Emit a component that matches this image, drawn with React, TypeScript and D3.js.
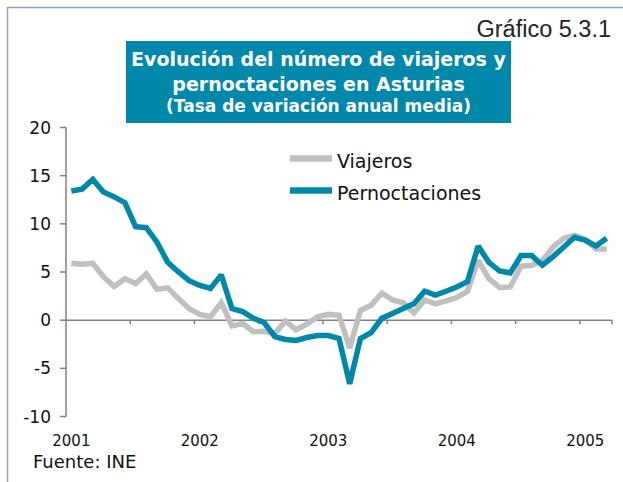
import { useEffect, useRef } from 'react';
import * as d3 from 'd3';

// meses desde enero 2001 hasta marzo 2005
const months: Date[] = d3.timeMonth.range(new Date(2001, 0, 1), new Date(2005, 3, 1));

const yearLabels = ['2001', '2002', '2003', '2004', '2005'];
const yTicks = [20, 15, 10, 5, 0, -5, -10];

const viajeros = [
  5.9, 5.8, 5.9, 4.5, 3.5, 4.3, 3.8, 4.8, 3.2, 3.35, 2.25, 1.2,
  0.6, 0.35, 1.8, -0.6, -0.35, -1.2, -1.15, -1.4, -0.1, -1.0, -0.4, 0.35,
  0.6, 0.5, -2.9, 1.0, 1.55, 2.8, 2.1, 1.8, 0.75, 2.1, 1.7, 2.0,
  2.35, 3.0, 6.2, 4.3, 3.4, 3.45, 5.6, 5.7, 6.2, 7.6, 8.5, 8.8,
  8.4, 7.4, 7.4
];

const pernoctaciones = [
  13.4, 13.6, 14.6, 13.3, 12.8, 12.2, 9.7, 9.6, 8.1, 6.0, 5.0, 4.1,
  3.6, 3.3, 4.7, 1.2, 0.9, 0.2, -0.25, -1.7, -2.0, -2.1, -1.8, -1.6,
  -1.6, -1.9, -6.6, -1.9, -1.3, 0.2, 0.7, 1.2, 1.7, 3.0, 2.6, 3.0,
  3.45, 4.0, 7.7, 6.0, 5.1, 4.9, 6.7, 6.7, 5.7, 6.6, 7.6, 8.6,
  8.3, 7.7, 8.5
];

const series = [
  { name: 'Viajeros', values: viajeros, color: '#c0c0c0' },
  { name: 'Pernoctaciones', values: pernoctaciones, color: '#0088a9' }
];

const W = 623;
const H = 482;
const TEAL = '#0088ab';

export default function App() {
  const svgRef = useRef<SVGSVGElement>(null);

  useEffect(() => {
    if (!svgRef.current) return;
    document.body.style.margin = '0';

    const svg = d3.select(svgRef.current);
    svg.selectAll('*').remove();

    const x = d3.scaleBand<number>()
      .domain(months.map((_, i) => i))
      .range([66, 612])
      .paddingInner(0)
      .paddingOuter(0);
    const y = d3.scaleLinear().domain([-10, 20]).range([416.5, 127.5]);
    const cx = (i: number) => (x(i) || 0) + x.bandwidth() / 2;

    // marco
    svg.append('path')
      .attr('d', `M7.5,${H} V7.5 H${W}`)
      .attr('fill', 'none')
      .attr('stroke', '#94a3c4')
      .attr('stroke-width', 1.5);

    // Gráfico 5.3.1
    svg.append('text')
      .attr('x', 611)
      .attr('y', 37)
      .attr('text-anchor', 'end')
      .attr('font-family', '"Liberation Sans", Arial, sans-serif')
      .attr('font-size', 23.5)
      .attr('fill', '#222')
      .text('Gráfico 5.3.1');

    // caja del titulo
    svg.append('rect')
      .attr('x', 126)
      .attr('y', 41)
      .attr('width', 385)
      .attr('height', 82)
      .attr('fill', TEAL);

    const titleLines = [
      { t: 'Evolución del número de viajeros y', y: 66, s: 19 },
      { t: 'pernoctaciones en Asturias', y: 90.5, s: 19 },
      { t: '(Tasa de variación anual media)', y: 112, s: 17 }
    ];
    svg.selectAll('text.title')
      .data(titleLines)
      .enter()
      .append('text')
      .attr('class', 'title')
      .attr('x', 318.5)
      .attr('y', d => d.y)
      .attr('text-anchor', 'middle')
      .attr('font-family', '"DejaVu Sans", Verdana, sans-serif')
      .attr('font-weight', 'bold')
      .attr('font-size', d => d.s)
      .attr('fill', '#fff')
      .text(d => d.t);

    const axisColor = '#808080';

    // eje Y
    svg.append('line')
      .attr('x1', 66).attr('x2', 66)
      .attr('y1', y(20)).attr('y2', y(-10))
      .attr('stroke', axisColor).attr('stroke-width', 1.5);

    svg.selectAll('line.ytick')
      .data(yTicks)
      .enter()
      .append('line')
      .attr('class', 'ytick')
      .attr('x1', 60).attr('x2', 66)
      .attr('y1', d => y(d)).attr('y2', d => y(d))
      .attr('stroke', axisColor).attr('stroke-width', 1.5);

    svg.selectAll('text.ylab')
      .data(yTicks)
      .enter()
      .append('text')
      .attr('class', 'ylab')
      .attr('x', 51)
      .attr('y', d => y(d) + 6)
      .attr('text-anchor', 'end')
      .attr('font-family', '"DejaVu Sans", Verdana, sans-serif')
      .attr('font-size', 17)
      .attr('fill', '#111')
      .text(d => d);

    // eje X en cero
    svg.append('line')
      .attr('x1', 66).attr('x2', 612)
      .attr('y1', y(0)).attr('y2', y(0))
      .attr('stroke', axisColor).attr('stroke-width', 1.5);

    const tickIdx = months.map((_, i) => i).filter(i => i % 6 === 0 && i > 0);
    tickIdx.push(months.length);
    svg.selectAll('line.xtick')
      .data(tickIdx)
      .enter()
      .append('line')
      .attr('class', 'xtick')
      .attr('x1', d => 66 + d * x.bandwidth())
      .attr('x2', d => 66 + d * x.bandwidth())
      .attr('y1', y(0)).attr('y2', y(0) + 4)
      .attr('stroke', axisColor).attr('stroke-width', 1.5);

    svg.selectAll('text.xlab')
      .data(yearLabels)
      .enter()
      .append('text')
      .attr('class', 'xlab')
      .attr('x', (_, i) => cx(i * 12))
      .attr('y', 446)
      .attr('text-anchor', 'middle')
      .attr('font-family', '"DejaVu Sans", Verdana, sans-serif')
      .attr('font-size', 15)
      .attr('fill', '#111')
      .text(d => d);

    // lineas
    const line = d3.line<number>()
      .x((_, i) => cx(i))
      .y(d => y(d));

    svg.selectAll('path.serie')
      .data(series)
      .enter()
      .append('path')
      .attr('class', 'serie')
      .attr('d', d => line(d.values) || '')
      .attr('fill', 'none')
      .attr('stroke', d => d.color)
      .attr('stroke-width', 5.5)
      .attr('stroke-linejoin', 'miter')
      .attr('stroke-miterlimit', 2);

    // leyenda
    const legend = svg.selectAll('g.leg')
      .data(series)
      .enter()
      .append('g')
      .attr('class', 'leg')
      .attr('transform', (_, i) => `translate(290,${158.5 + i * 32})`);

    legend.append('line')
      .attr('x1', 0).attr('x2', 42)
      .attr('y1', 0).attr('y2', 0)
      .attr('stroke', d => d.color)
      .attr('stroke-width', 6.5);

    legend.append('text')
      .attr('x', 47)
      .attr('y', 9.5)
      .attr('font-family', '"DejaVu Sans", Verdana, sans-serif')
      .attr('font-size', 19)
      .attr('fill', '#111')
      .text(d => d.name);

    // fuente
    svg.append('text')
      .attr('x', 33)
      .attr('y', 468)
      .attr('font-family', '"DejaVu Sans", Verdana, sans-serif')
      .attr('font-size', 18)
      .attr('fill', '#111')
      .text('Fuente: INE');
  }, []);

  return (
    <svg ref={svgRef} width={W} height={H} style={{ display: 'block', background: '#fff' }}></svg>
  );
}
